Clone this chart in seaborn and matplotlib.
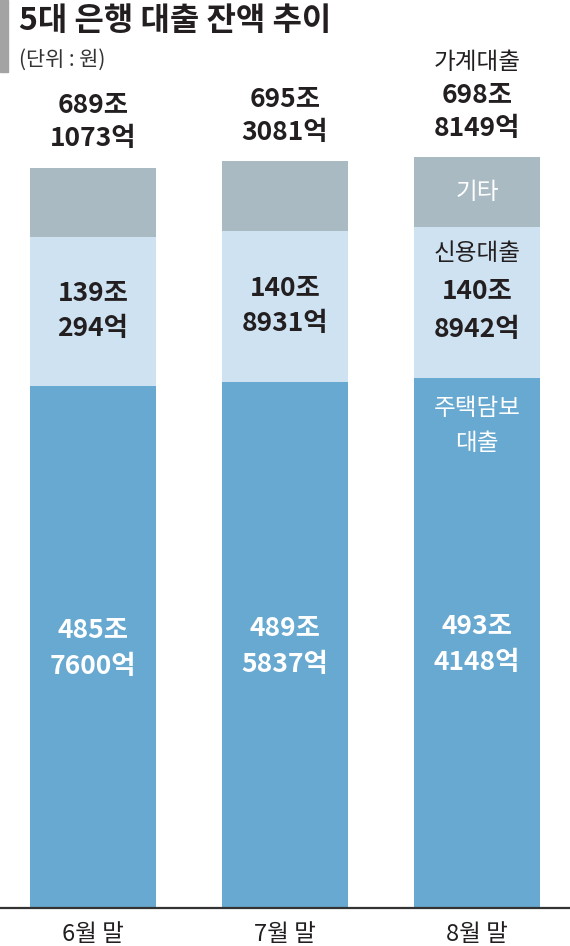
import matplotlib
matplotlib.use("Agg")
import matplotlib.pyplot as plt
import seaborn as sns
import pandas as pd

months = ["6월 말", "7월 말", "8월 말"]
total_jo = [689, 695, 698]
total_eok = [1073, 3081, 8149]
credit_jo = [139, 140, 140]
credit_eok = [294, 8931, 8942]
mortgage_jo = [485, 489, 493]
mortgage_eok = [7600, 5837, 4148]

def val(jo, eok):
    return [j + e / 10000 for j, e in zip(jo, eok)]

total = val(total_jo, total_eok)
credit = val(credit_jo, credit_eok)
mortgage = val(mortgage_jo, mortgage_eok)

df = pd.DataFrame({
    "month": months,
    "total": total,
    "mort_credit": [m + c for m, c in zip(mortgage, credit)],
    "mortgage": mortgage,
})

sns.set_theme(style="white")
plt.rcParams["font.family"] = ["Noto Sans CJK KR", "DejaVu Sans"]

C_OTHER = "#aabac2"
C_CREDIT = "#cfe2f2"
C_MORT = "#67a9d0"
DARK = "#231f20"

fig = plt.figure(figsize=(5.7, 9.46), dpi=100)
ax = fig.add_axes([0, 38 / 946, 1, 808 / 946])

W = 0.66
for col, c in [("total", C_OTHER), ("mort_credit", C_CREDIT), ("mortgage", C_MORT)]:
    sns.barplot(data=df, x="month", y=col, color=c, width=W, ax=ax, saturation=1,
                linewidth=0, edgecolor="none")

ax.set_xlim(-0.484, 2.484)
ax.set_ylim(0, 752.3)
for s in ["top", "left", "right"]:
    ax.spines[s].set_visible(False)
ax.spines["bottom"].set_color("#333333")
ax.spines["bottom"].set_linewidth(1.6)
ax.set_yticks([])
ax.set_xlabel("")
ax.set_ylabel("")
ax.tick_params(axis="x", length=0, pad=11, labelsize=17, labelcolor=DARK)

PX = 0.72  # points per pixel

def put(x, y, txt, dy_px, color=DARK, size=19, weight="bold"):
    ax.annotate(txt, xy=(x, y), xytext=(0, dy_px * PX), textcoords="offset points",
                ha="center", va="center", fontsize=size, fontweight=weight, color=color)

for i in range(3):
    # totals above bars
    put(i, total[i], f"{total_jo[i]}조", 62)
    put(i, total[i], f"{total_eok[i]}억", 29)
    # mortgage
    mc = mortgage[i] / 2
    put(i, mc, f"{mortgage_jo[i]}조", 17, color="white")
    put(i, mc, f"{mortgage_eok[i]}억", -19, color="white")
    # credit
    cc = mortgage[i] + credit[i] / 2
    if i < 2:
        put(i, cc, f"{credit_jo[i]}조", 18)
        put(i, cc, f"{credit_eok[i]}억", -17)
    else:
        put(i, cc, "신용대출", 49, size=17, weight="normal")
        put(i, cc, f"{credit_jo[i]}조", 11)
        put(i, cc, f"{credit_eok[i]}억", -27)

# category names on the last bar
put(2, total[2], "가계대출", 95, size=17, weight="normal")
oc = (total[2] + mortgage[2] + credit[2]) / 2
put(2, oc, "기타", 0, color="white", size=17, weight="normal")
put(2, mortgage[2], "주택담보", -30, color="white", size=17, weight="normal")
put(2, mortgage[2], "대출", -65, color="white", size=17, weight="normal")

# title block
fig.patches.append(plt.Rectangle((0, 1 - 72 / 946), 8 / 570, 72 / 946,
                                 transform=fig.transFigure, color="#a3a3a3", zorder=0))
fig.text(19 / 570, 1 - 21 / 946, "5대 은행 대출 잔액 추이", fontsize=23, fontweight="bold",
         color=DARK, va="center", ha="left")
fig.text(19 / 570, 1 - 60 / 946, "(단위 : 원)", fontsize=15, color="#333333",
         va="center", ha="left")

fig.savefig("out.png", dpi=100)
